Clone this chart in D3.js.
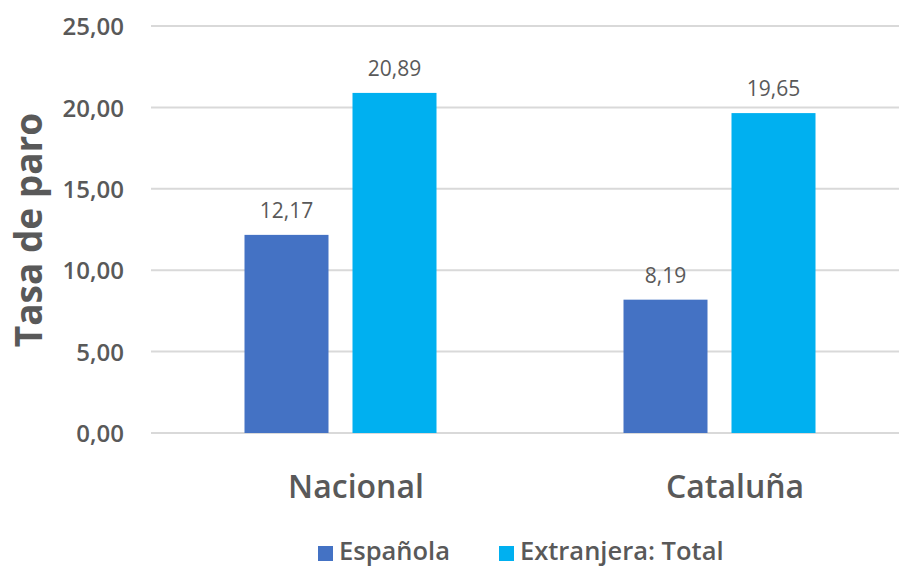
<!DOCTYPE html>
<html><head><meta charset="utf-8">
<script src="https://cdn.jsdelivr.net/npm/d3@7"></script>
<style>body{margin:0;background:#fff}svg{display:block}text{font-family:"Open Sans",sans-serif;fill:#595959}</style>
</head><body><svg id="c" width="899" height="566"></svg>
<script>
const categories = ["Nacional", "Cataluña"];
const seriesNames = ["Española", "Extranjera: Total"];
const espanola = [12.17, 8.19];
const extranjera = [20.89, 19.65];
const yTicks = [0, 5, 10, 15, 20, 25];
const colors = ["#4472C4", "#00B0F0"];

(function () {
const svg = d3.select("#c");
const fmt = v => d3.format(".2f")(v).replace(".", ",");
const pl = 151, pr = 909, pt = 26, pb = 433;
const x = d3.scaleBand().domain(categories).range([pl, pr]).paddingInner(0).paddingOuter(0);
const y = d3.scaleLinear().domain([0, 25]).range([pb, pt]);
const xs = d3.scaleBand().domain(seriesNames).range([93.5, 379 - 93.5]).paddingInner(0.2222);

svg.append("g").selectAll("line").data(yTicks).join("line")
  .attr("x1", pl).attr("x2", pr).attr("y1", d => y(d)).attr("y2", d => y(d))
  .attr("stroke", "#d9d9d9").attr("stroke-width", 2);

const yAxis = d3.axisLeft(y).tickValues(yTicks).tickFormat(fmt).tickSize(0).tickPadding(0);
const ga = svg.append("g").attr("transform", `translate(${pl - 27},0)`).call(yAxis);
ga.select(".domain").remove();
ga.selectAll("text").attr("font-size", 24).attr("font-weight", 600).style("fill", "#595959").attr("dy", "0.36em").attr("font-family", "Open Sans");

const data = categories.map((c, i) => ({c, vals: [espanola[i], extranjera[i]]}));
const g = svg.append("g");
data.forEach(d => {
  d.vals.forEach((v, j) => {
    const bx = x(d.c) + xs(seriesNames[j]);
    g.append("rect").attr("x", bx).attr("y", y(v)).attr("width", xs.bandwidth()).attr("height", y(0) - y(v)).attr("fill", colors[j]);
    g.append("text").attr("x", bx + xs.bandwidth() / 2).attr("y", y(v) - 17).attr("text-anchor", "middle")
      .attr("font-size", 21).text(fmt(v));
  });
});

const xAxis = d3.axisBottom(x).tickSize(0).tickPadding(0);
const gx = svg.append("g").attr("transform", `translate(15.5,${pb + 65})`).call(xAxis);
gx.select(".domain").remove();
gx.selectAll("text").attr("font-size", 32).attr("font-weight", 600).attr("dy", 0).style("fill", "#595959").attr("font-family", "Open Sans");

svg.append("text").attr("transform", "translate(42,230) rotate(-90)").attr("text-anchor", "middle")
  .attr("font-size", 37).attr("font-weight", 700).text("Tasa de paro");

const legX = [318, 499];
seriesNames.forEach((s, i) => {
  svg.append("rect").attr("x", legX[i]).attr("y", 546).attr("width", 15).attr("height", 15).attr("fill", colors[i]);
  svg.append("text").attr("x", legX[i] + 21).attr("y", 560).attr("font-size", 25.5).attr("font-weight", 600).text(s);
});
})();
</script></body></html>
